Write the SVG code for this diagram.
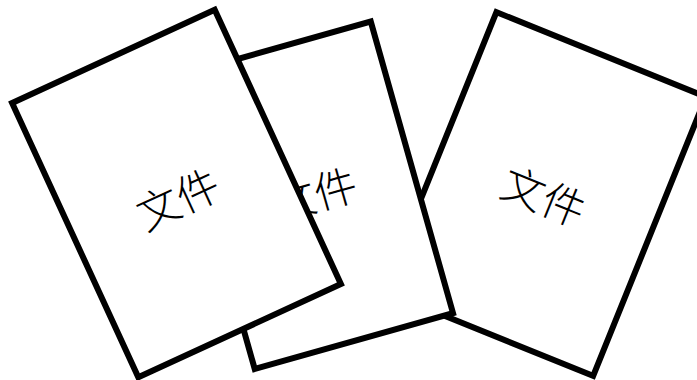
<svg xmlns="http://www.w3.org/2000/svg" width="697" height="380" viewBox="0 0 697 380">
<style>
.doc{fill:#fff;stroke:#000;stroke-width:6;stroke-linejoin:miter}
.lbl{font-family:"Noto Sans CJK SC","Noto Sans CJK JP",sans-serif;font-size:43px;fill:#000;text-anchor:middle;dominant-baseline:central;font-weight:300}
</style>
<rect width="697" height="380" fill="#fff"/>
<g id="doc-right" transform="translate(544.8,194) rotate(22)">
<rect class="doc" x="-113" y="-150.5" width="226" height="301"/>
<text class="lbl" x="0" y="0">文件</text>
</g>
<g id="doc-middle" transform="translate(312.75,195.25) rotate(-15.75)">
<rect class="doc" x="-103" y="-151.5" width="206" height="303"/>
<text class="lbl" x="2" y="-3">文件</text>
</g>
<g id="doc-left" transform="translate(176.5,193.5) rotate(-24.7)">
<rect class="doc" x="-111.5" y="-151" width="223" height="302"/>
<text class="lbl" x="-1" y="3">文件</text>
</g>
<g id="connectors"></g>
</svg>
